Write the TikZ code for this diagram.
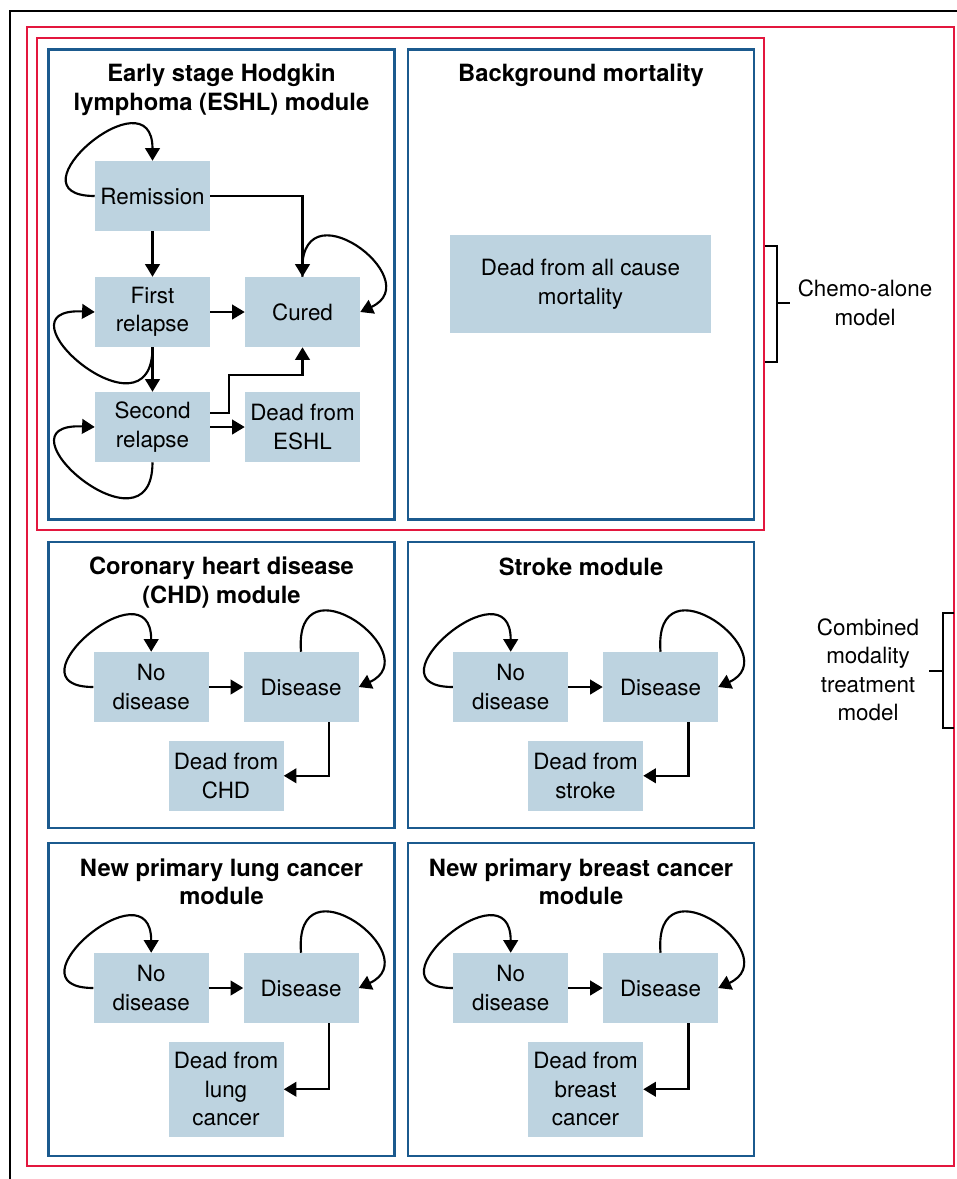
\documentclass[tikz,border=0pt]{standalone}
\usepackage{fontspec}
\setmainfont{TeX Gyre Heros}
\usetikzlibrary{arrows.meta}

\definecolor{boxfill}{HTML}{BDD3E0}
\definecolor{frameblue}{HTML}{1B5A8E}
\definecolor{framered}{HTML}{E3173E}

\tikzset{
	statebox/.style={fill=boxfill, minimum width=86.25pt, minimum height=52.5pt, align=center, inner sep=2pt, font=\fontsize{16.8}{21.4}\selectfont},
	modtitle/.style={anchor=base, align=center, inner sep=0pt, font=\fontsize{17.8}{21.2}\selectfont\bfseries},
	sidetext/.style={anchor=base, align=center, inner sep=0pt, font=\fontsize{16.8}{21.4}\selectfont},
	arr/.style={line width=1.6pt, -{Triangle[length=9.5pt, width=11pt]}},
	module/.style={draw=frameblue, line width=1.6pt},
	brace/.style={line width=1.5pt}
}

\begin{document}
\begin{tikzpicture}[x=0.75pt, y=-0.75pt]
	\useasboundingbox (0,0) rectangle (957,1179);
	\draw[line width=1.5pt] (10,1179) -- (10,11) -- (957,11);
	\draw[framered, line width=1.5pt] (26.7,27.3) rectangle (954.3,1166);
	\draw[framered, line width=1.5pt] (37.3,38.3) rectangle (764.3,529.5);
	\draw[module] (48.5,49.5) rectangle (394.5,519.5);
	\draw[module] (408,49.5) rectangle (754,519.5);

	\node[modtitle] (eshltitle) at (221.5,110) {Early stage Hodgkin\\lymphoma (ESHL) module};
	\node[modtitle] (bgtitle) at (581,81.7) {Background mortality};

	\node[statebox] (rem) at (152.5,196) {Remission};
	\node[statebox] (first) at (152.5,312) {First\\relapse};
	\node[statebox] (cured) at (302.5,312) {Cured};
	\node[statebox] (second) at (152.5,427) {Second\\relapse};
	\node[statebox] (eshldead) at (302.5,427) {Dead from\\ESHL};
	\node[statebox, minimum width=195.75pt, minimum height=73.5pt] (allcause) at (580.5,284) {Dead from all cause\\mortality};

	\draw[arr] (rem) -- (first);
	\draw[arr] (rem.east) -| (cured.north);
	\draw[arr] (first) -- (cured);
	\draw[arr] (first) -- (second);
	\draw[arr] (second) -- (eshldead);
	\draw[arr] ([yshift=10.8pt]second.east) -- ++(19,0) |- ([yshift=-21pt]cured.south) -- (cured.south);
	\draw[arr] (rem.west) .. controls +(-90,0) and +(0,-90) .. (rem.north);
	\draw[arr] (cured.north) .. controls +(-7.5,-97) and +(70,-32) .. (cured.east);
	\draw[arr] (first.south) .. controls +(0,100) and +(-105,-5) .. (first.west);
	\draw[arr] (second.south) .. controls +(0,100) and +(-105,-5) .. (second.west);

	\foreach \dx/\dy/\m/\fb/\dh/\ty/\ttl/\dead in {
		0/0/chd/828.3/52.5pt/603/{Coronary heart disease\\(CHD) module}/{Dead from\\CHD},
		359.5/0/stk/828.3/52.5pt/575/{Stroke module}/{Dead from\\stroke},
		0/301/lng/855/71.25pt/603.5/{New primary lung cancer\\module}/{Dead from\\lung\\cancer},
		359.5/301/brc/855/71.25pt/603.5/{New primary breast cancer\\module}/{Dead from\\breast\\cancer}}{
		\begin{scope}[shift={(\dx,\dy)}]
			\draw[module] (48.5,541.7) rectangle (394.5,\fb);
			\node[modtitle] (\m-title) at (221.5,\ty) {\ttl};
			\node[statebox] (\m-no) at (151.2,687) {No\\disease};
			\node[statebox] (\m-dis) at (301,687) {Disease};
			\node[statebox, anchor=north, minimum height=\dh] (\m-dead) at (226,740.5) {\dead};
			\draw[arr] (\m-no) -- (\m-dis);
			\draw[arr] ([xshift=21pt]\m-dis.south) |- (\m-dead.east);
			\draw[arr] (\m-no.west) .. controls +(-90,0) and +(0,-90) .. (\m-no.north);
			\draw[arr] (\m-dis.north) .. controls +(-7.5,-97) and +(70,-32) .. (\m-dis.east);
		\end{scope}
	}

	\draw[brace] (765,245.7) -- (777,245.7) -- (777,361.7) -- (765,361.7);
	\draw[brace] (777,303.3) -- (790,303.3);
	\node[sidetext] (chemo) at (865,325) {Chemo-alone\\model};
	\draw[brace] (954.3,613.3) -- (942.7,613.3) -- (942.7,727.7) -- (954.3,727.7);
	\draw[brace] (942.7,671) -- (929,671);
	\node[sidetext] (combined) at (868,720.7) {Combined\\modality\\treatment\\model};
\end{tikzpicture}
\end{document}
